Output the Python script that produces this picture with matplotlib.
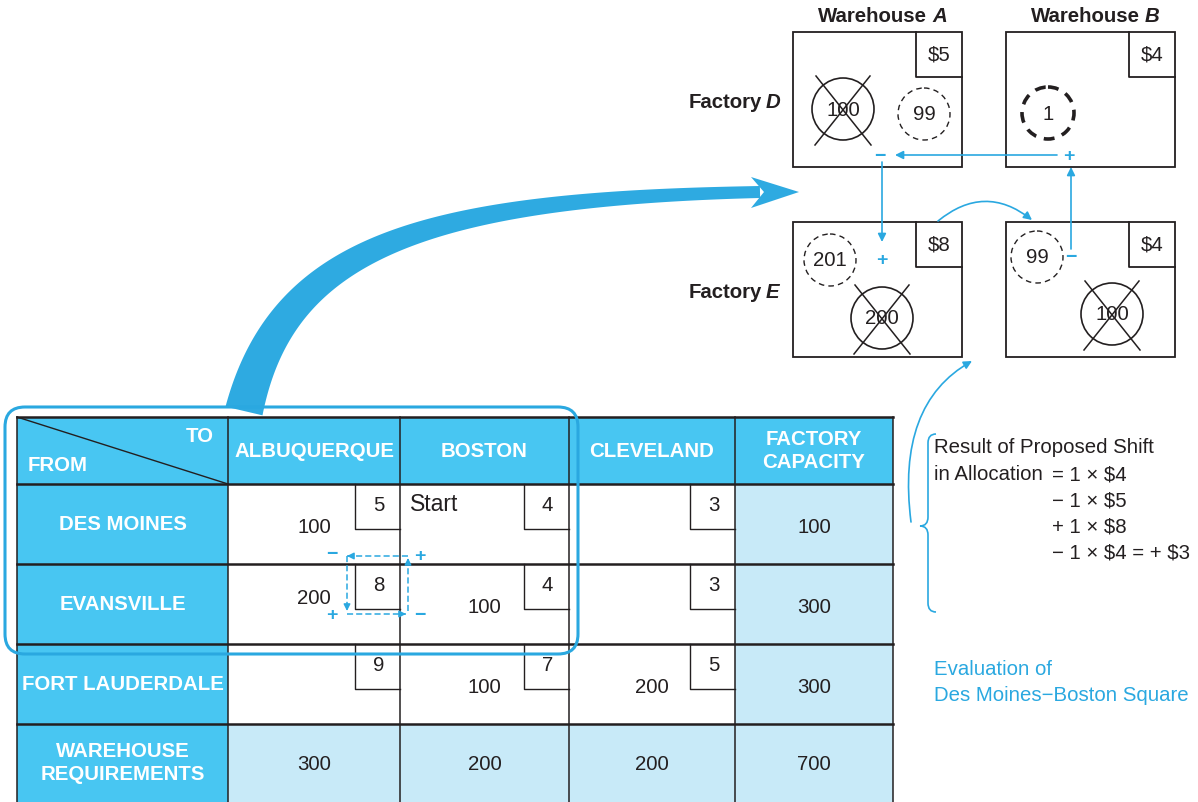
"""Stepping-stone evaluation of the Des Moines-Boston square."""

import matplotlib

matplotlib.use("Agg")
import matplotlib.pyplot as plt
import numpy as np
from matplotlib.patches import Circle, FancyArrowPatch, FancyBboxPatch, PathPatch, Rectangle
from matplotlib.path import Path

plt.rcParams["font.family"] = ["Liberation Sans", "DejaVu Sans"]
plt.rcParams["text.parse_math"] = False

# ---- table data ---------------------------------------------------------
sources = ["DES MOINES", "EVANSVILLE", "FORT LAUDERDALE"]
destinations = ["ALBUQUERQUE", "BOSTON", "CLEVELAND"]
unit_costs = [[5, 4, 3], [8, 4, 3], [9, 7, 5]]
allocations = [[100, None, None], [200, 100, None], [None, 100, 200]]
capacities = [100, 300, 300]
requirements = [300, 200, 200]
total = 700

# ---- evaluation diagram data -------------------------------------------
warehouses = ["A", "B"]
factories = ["D", "E"]
box_costs = [[5, 4], [8, 4]]
old_amounts = [[100, None], [200, 100]]
new_amounts = [[99, 1], [201, 99]]
result_lines = ["= 1 \u00d7 $4", "\u2212 1 \u00d7 $5", "+ 1 \u00d7 $8", "\u2212 1 \u00d7 $4 = + $3"]

HEAD = "#48c6f2"
LIGHT = "#c8eaf8"
BLUE = "#2aa8e0"
INK = "#231f20"
FS = 14.7

col_x = [17, 228, 400, 569, 735, 893]
row_y = [418, 485, 565, 645, 725, 803]
COST_BOX = 45

fig = plt.figure(figsize=(11.98, 8.03), dpi=100)
ax = fig.add_axes([0, 0, 1, 1])
ax.set_xlim(0, 1198)
ax.set_ylim(803, 0)
ax.axis("off")


def cell(r, c, color):
    ax.add_patch(Rectangle((col_x[c], row_y[r]), col_x[c + 1] - col_x[c],
                           row_y[r + 1] - row_y[r], facecolor=color, edgecolor="none", zorder=1))


# fills
for c in range(5):
    cell(0, c, HEAD)
for r in range(1, 5):
    cell(r, 0, HEAD)
    cell(r, 4, LIGHT)
for c in range(1, 4):
    cell(4, c, LIGHT)

# grid
for y in row_y[:-1]:
    ax.plot([col_x[0], col_x[-1]], [y, y], color=INK, lw=1.8, zorder=3)
for x in col_x:
    ax.plot([x, x], [row_y[0], row_y[-1]], color=INK, lw=1.1, zorder=3)
ax.plot([col_x[0], col_x[1]], [row_y[0], row_y[1]], color=INK, lw=1.0, zorder=3)

hdr = dict(color="white", fontsize=FS, fontweight="bold", zorder=4, linespacing=1.25)
ax.text(col_x[1] - 14, 437, "TO", ha="right", va="center", **hdr)
ax.text(col_x[0] + 11, 466, "FROM", ha="left", va="center", **hdr)
for c, name in enumerate(destinations, start=1):
    ax.text((col_x[c] + col_x[c + 1]) / 2, 452, name, ha="center", va="center", **hdr)
ax.text((col_x[4] + col_x[5]) / 2, 451, "FACTORY\nCAPACITY", ha="center", va="center", **hdr)
for r, name in enumerate(sources, start=1):
    ax.text((col_x[0] + col_x[1]) / 2, (row_y[r] + row_y[r + 1]) / 2, name,
            ha="center", va="center", **hdr)
ax.text((col_x[0] + col_x[1]) / 2, 763, "WAREHOUSE\nREQUIREMENTS", ha="center", va="center", **hdr)

num = dict(color=INK, fontsize=FS, ha="center", va="center", zorder=4)
for r in range(3):
    top = row_y[r + 1]
    for c in range(3):
        right = col_x[c + 2]
        ax.plot([right - COST_BOX, right - COST_BOX, right], [top, top + COST_BOX, top + COST_BOX],
                color=INK, lw=1.0, zorder=3)
        ax.text(right - COST_BOX / 2 + 1, top + 21, str(unit_costs[r][c]), **num)
        if allocations[r][c] is not None:
            dy = -6 if (r, c) == (1, 0) else 3
            ax.text((col_x[c + 1] + col_x[c + 2]) / 2, (top + row_y[r + 2]) / 2 + dy,
                    str(allocations[r][c]), **num)
    ax.text((col_x[4] + col_x[5]) / 2, (top + row_y[r + 2]) / 2 + 3, str(capacities[r]), **num)
for c in range(3):
    ax.text((col_x[c + 1] + col_x[c + 2]) / 2, 765, str(requirements[c]), **num)
ax.text((col_x[4] + col_x[5]) / 2, 765, str(total), **num)
ax.text(410, 505, "Start", color=INK, fontsize=16.5, ha="left", va="center", zorder=4)

# dashed closed path around the Evansville-Albuquerque cell
loop = [((408, 557), (347, 557)), ((347, 557), (347, 612)),
        ((347, 615), (406, 615)), ((408, 612), (408, 559))]
for (x0, y0), (x1, y1) in loop:
    ax.plot([x0, x1], [y0, y1], color=BLUE, lw=1.1, ls=(0, (4, 2)), zorder=5)
    d = np.array([x1 - x0, y1 - y0], float)
    d /= np.linalg.norm(d)
    ax.annotate("", xy=(x1, y1), xytext=(x1 - 6 * d[0], y1 - 6 * d[1]),
                arrowprops=dict(arrowstyle="-|>", color=BLUE, lw=1.0, mutation_scale=10,
                                shrinkA=0, shrinkB=0), zorder=5)
sign = dict(color=BLUE, fontsize=14, ha="center", va="center", zorder=5, fontweight="bold")
ax.text(332, 555, "\u2212", **sign)
ax.text(420, 557, "+", **sign)
ax.text(332, 616, "+", **sign)
ax.text(420, 616, "\u2212", **sign)

# rounded highlight around the two first rows
ax.add_patch(FancyBboxPatch((5, 408), 573, 247, boxstyle="round,pad=0,rounding_size=20",
                            facecolor="none", edgecolor=BLUE, lw=2.2, zorder=6))

# big tapered arrow
p0, p1, p2, p3 = map(np.array, [(244, 412), (282, 250), (420, 200), (760, 193)])
t = np.linspace(0, 1, 120)[:, None]
pts = (1 - t) ** 3 * p0 + 3 * (1 - t) ** 2 * t * p1 + 3 * (1 - t) * t ** 2 * p2 + t ** 3 * p3
der = 3 * (1 - t) ** 2 * (p1 - p0) + 6 * (1 - t) * t * (p2 - p1) + 3 * t ** 2 * (p3 - p2)
nrm = np.column_stack([-der[:, 1], der[:, 0]]) / np.linalg.norm(der, axis=1)[:, None]
half = (19 * (1 - t[:, 0]) ** 1.3 + 6 * (1 - (1 - t[:, 0]) ** 1.3))[:, None]
outline = np.vstack([pts + nrm * half, (pts - nrm * half)[::-1]])
ax.fill(outline[:, 0], outline[:, 1], color="#2eaae1", lw=0, zorder=2)
ax.fill([751, 799, 751, 764], [178, 193, 209, 193], color="#2eaae1", lw=0, zorder=2)

# ---- evaluation diagram -------------------------------------------------
box_x = [793, 1006]
box_y = [33, 223]
BW, BH = 169, 135
bold = dict(color=INK, fontsize=FS, fontweight="bold", va="center", zorder=4)
for i, w in enumerate(warehouses):
    end = box_x[i] + 134
    ax.text(end, 17, "Warehouse", ha="right", **bold)
    ax.text(end + 5, 17, w, ha="left", fontstyle="italic", **bold)
for j, f in enumerate(factories):
    ax.text(762, box_y[j] + 70, "Factory", ha="right", **bold)
    ax.text(766, box_y[j] + 70, f, ha="left", fontstyle="italic", **bold)

old_pos = [[(843, 110), None], [(882, 319), (1112, 315)]]
new_pos = [[(924, 115), (1048, 114)], [(830, 261), (1037, 258)]]
for j in range(2):
    for i in range(2):
        x0, y0 = box_x[i], box_y[j]
        ax.add_patch(Rectangle((x0, y0), BW, BH, facecolor="white", edgecolor=INK, lw=1.3, zorder=3))
        ax.plot([x0 + BW - 46, x0 + BW - 46, x0 + BW], [y0, y0 + 45, y0 + 45], color=INK, lw=1.3, zorder=3)
        ax.text(x0 + BW - 23, y0 + 22, f"${box_costs[j][i]}", **num)
        if old_amounts[j][i] is not None:
            cx, cy = old_pos[j][i]
            ax.add_patch(Circle((cx, cy), 31, facecolor="none", edgecolor=INK, lw=1.2, zorder=4))
            ax.plot([cx - 27, cx + 28], [cy - 33, cy + 36], color=INK, lw=1.1, zorder=5)
            ax.plot([cx + 27, cx - 28], [cy - 33, cy + 36], color=INK, lw=1.1, zorder=5)
            ax.text(cx, cy, str(old_amounts[j][i]), **num)
        cx, cy = new_pos[j][i]
        heavy = new_amounts[j][i] == 1
        ax.add_patch(Circle((cx, cy), 26, facecolor="none", edgecolor=INK,
                            lw=2.6 if heavy else 1.0, ls=(0, (3, 2.2)) if heavy else (0, (4, 3)),
                            zorder=4))
        ax.text(cx, cy, str(new_amounts[j][i]), **num)

arrow = dict(arrowstyle="-|>", color=BLUE, lw=1.2, mutation_scale=12, shrinkA=0, shrinkB=0)
ax.annotate("", xy=(895, 156), xytext=(1057, 156), arrowprops=arrow, zorder=6)
ax.annotate("", xy=(882, 243), xytext=(882, 163), arrowprops=arrow, zorder=6)
ax.annotate("", xy=(1071, 168), xytext=(1071, 250), arrowprops=arrow, zorder=6)
ax.annotate("", xy=(1032, 221), xytext=(938, 222),
            arrowprops=dict(arrow, connectionstyle="arc3,rad=-0.4"), zorder=6)
ax.text(1069, 156, "+", **sign)
ax.text(880, 156, "\u2212", **sign)
ax.text(882, 261, "+", **sign)
ax.text(1071, 258, "\u2212", **sign)

# brace and link to the diagram
brace = Path([(936, 435), (928, 435), (928, 444), (928, 518), (928, 527), (920, 527),
              (928, 527), (928, 536), (928, 604), (928, 613), (936, 613)],
             [Path.MOVETO, Path.CURVE3, Path.CURVE3, Path.LINETO, Path.CURVE3, Path.CURVE3,
              Path.CURVE3, Path.CURVE3, Path.LINETO, Path.CURVE3, Path.CURVE3])
ax.add_patch(PathPatch(brace, facecolor="none", edgecolor=BLUE, lw=1.2, zorder=4))
link = Path([(911, 523), (896, 405), (972, 362)], [Path.MOVETO, Path.CURVE3, Path.CURVE3])
ax.add_patch(FancyArrowPatch(path=link, arrowstyle="-|>", color=BLUE, lw=1.2,
                             mutation_scale=12, zorder=4))

txt = dict(color=INK, fontsize=FS, ha="left", va="center", zorder=4)
ax.text(934, 448, "Result of Proposed Shift", **txt)
ax.text(934, 475, "in Allocation", **txt)
for k, line in enumerate(result_lines):
    ax.text(1052, 475 + 26 * k, line, **txt)
ax.text(934, 670, "Evaluation of", **dict(txt, color=BLUE))
ax.text(934, 696, "Des Moines\u2212Boston Square", **dict(txt, color=BLUE))

fig.savefig("out.png", dpi=100)
